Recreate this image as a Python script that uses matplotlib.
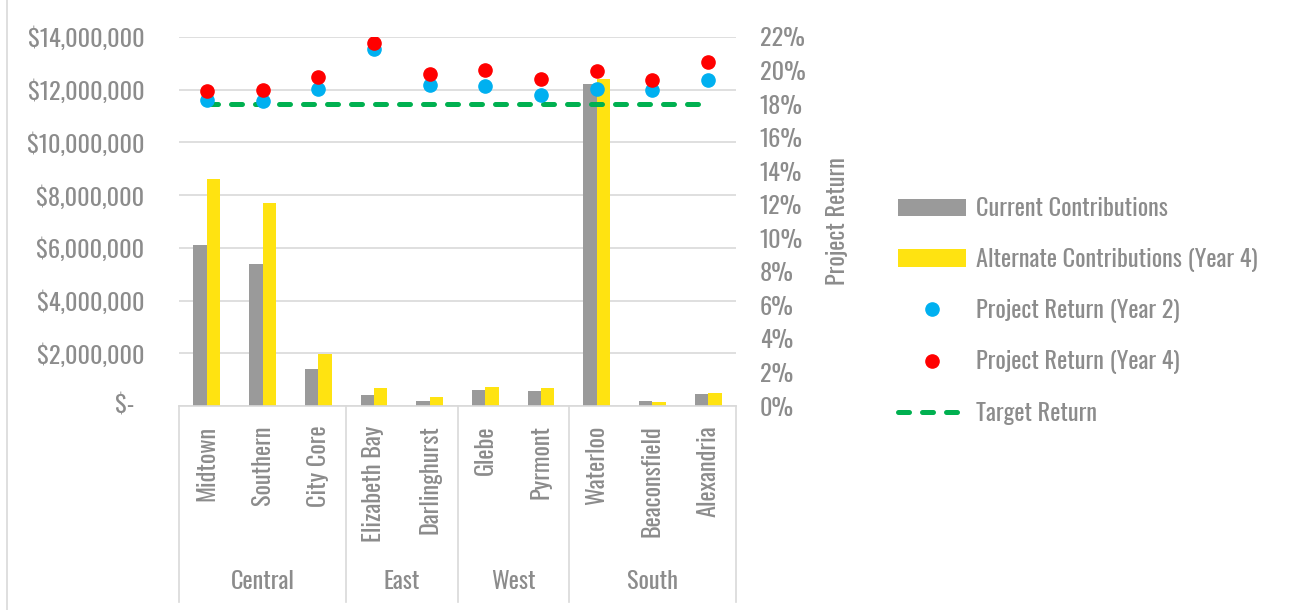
import matplotlib
matplotlib.use("Agg")
import matplotlib.pyplot as plt
import matplotlib.transforms as mtransforms
from matplotlib.ticker import FuncFormatter, MultipleLocator
from matplotlib.lines import Line2D

FONT = ["Oswald", "Abel", "Roboto Condensed", "DejaVu Sans"]
plt.rcParams["font.family"] = FONT
plt.rcParams["font.weight"] = 300
FS = 17.5

categories = ["Midtown", "Southern", "City Core", "Elizabeth Bay", "Darlinghurst",
              "Glebe", "Pyrmont", "Waterloo", "Beaconsfield", "Alexandria"]
groups = ["Central", "East", "West", "South"]
group_sizes = [3, 2, 2, 3]

current = [6100000, 5400000, 1400000, 420000, 190000,
           590000, 560000, 12200000, 180000, 440000]
alternate = [8600000, 7700000, 1980000, 680000, 340000,
             720000, 680000, 12400000, 170000, 500000]
return_y2 = [0.1825, 0.1820, 0.1890, 0.2127, 0.1912,
             0.1906, 0.1855, 0.1889, 0.1883, 0.1942]
return_y4 = [0.1876, 0.1886, 0.1962, 0.2163, 0.1982,
             0.2006, 0.1952, 0.1998, 0.1942, 0.2053]
target = [0.18] * len(categories)

GREY_TXT = "#8c8c8c"
GRID = "#d9d9d9"

fig = plt.figure(figsize=(12.93, 6.10), dpi=100)
ax = fig.add_axes([179 / 1293, 204 / 610, 557 / 1293, 369 / 610])
ax2 = ax.twinx()

x = list(range(len(categories)))
w = 0.24
b1 = ax.bar([i - w / 2 for i in x], current, width=w, color="#9a9a9a",
            label="Current Contributions", zorder=2)
b2 = ax.bar([i + w / 2 for i in x], alternate, width=w, color="#ffe311",
            label="Alternate Contributions (Year 4)", zorder=2)

ax.set_xlim(-0.5, len(categories) - 0.5)
ax.set_ylim(0, 14000000)
ax.yaxis.set_major_locator(MultipleLocator(2000000))
ax.yaxis.set_major_formatter(FuncFormatter(lambda v, p: "" if v == 0 else f"${v:,.0f}"))
ax.grid(axis="y", color=GRID, linewidth=1.2, zorder=0)
ax.set_axisbelow(True)
for s in ["top", "right", "left"]:
    ax.spines[s].set_visible(False)
ax.spines["bottom"].set_color(GRID)
ax.spines["bottom"].set_linewidth(1.2)
ax.tick_params(axis="y", length=0, pad=25, labelsize=FS, labelcolor=GREY_TXT)
ax.set_xticks(x)
ax.set_xticklabels(categories, rotation=90)
ax.tick_params(axis="x", length=0, pad=14, labelsize=FS, labelcolor=GREY_TXT)

# zero label in accounting style
ax.text(-0.081, 0, "$-", transform=mtransforms.blended_transform_factory(ax.transAxes, ax.transData),
        ha="right", va="center", fontsize=FS, color=GREY_TXT)

# group separators and group labels
trans = mtransforms.blended_transform_factory(ax.transData, ax.transAxes)
edges = [-0.5]
for n in group_sizes:
    edges.append(edges[-1] + n)
for e in edges:
    ax.plot([e, e], [0, -0.53], transform=trans, color=GRID, linewidth=1.2, clip_on=False)
for g, a, b in zip(groups, edges[:-1], edges[1:]):
    ax.text((a + b) / 2, -0.475, g, transform=trans, ha="center", va="center",
            fontsize=FS, color=GREY_TXT)

# secondary axis
ln, = ax2.plot(x, target, color="#00b050", linewidth=3.6, dashes=(2.2, 2.6),
               dash_capstyle="round", label="Target Return", zorder=2)
p2, = ax2.plot(x, return_y2, linestyle="none", marker="o", markersize=9.5,
               color="#00b0f0", label="Project Return (Year 2)", zorder=3)
p4, = ax2.plot(x, return_y4, linestyle="none", marker="o", markersize=9.5,
               color="#ff0000", label="Project Return (Year 4)", zorder=4)
ax2.set_ylim(0, 0.22)
ax2.yaxis.set_major_locator(MultipleLocator(0.02))
ax2.yaxis.set_major_formatter(FuncFormatter(lambda v, p: f"{v * 100:.0f}%"))
for s in ax2.spines.values():
    s.set_visible(False)
ax2.tick_params(axis="y", length=0, pad=17, labelsize=FS, labelcolor=GREY_TXT)
ax2.set_ylabel("Project Return", fontsize=FS, color=GREY_TXT, labelpad=15)

# chart border on the left
fig.add_artist(Line2D([7 / 1293, 7 / 1293], [0, 1], color=GRID, linewidth=1.2))

fig.legend(handles=[b1, b2, p2, p4, ln], loc="center left",
           bbox_to_anchor=(898 / 1293, 299 / 610), frameon=False,
           fontsize=FS, labelcolor=GREY_TXT, borderpad=0, borderaxespad=0,
           handlelength=2.8, handleheight=0.75, handletextpad=0.4,
           labelspacing=1.13)

fig.savefig("out.png")
